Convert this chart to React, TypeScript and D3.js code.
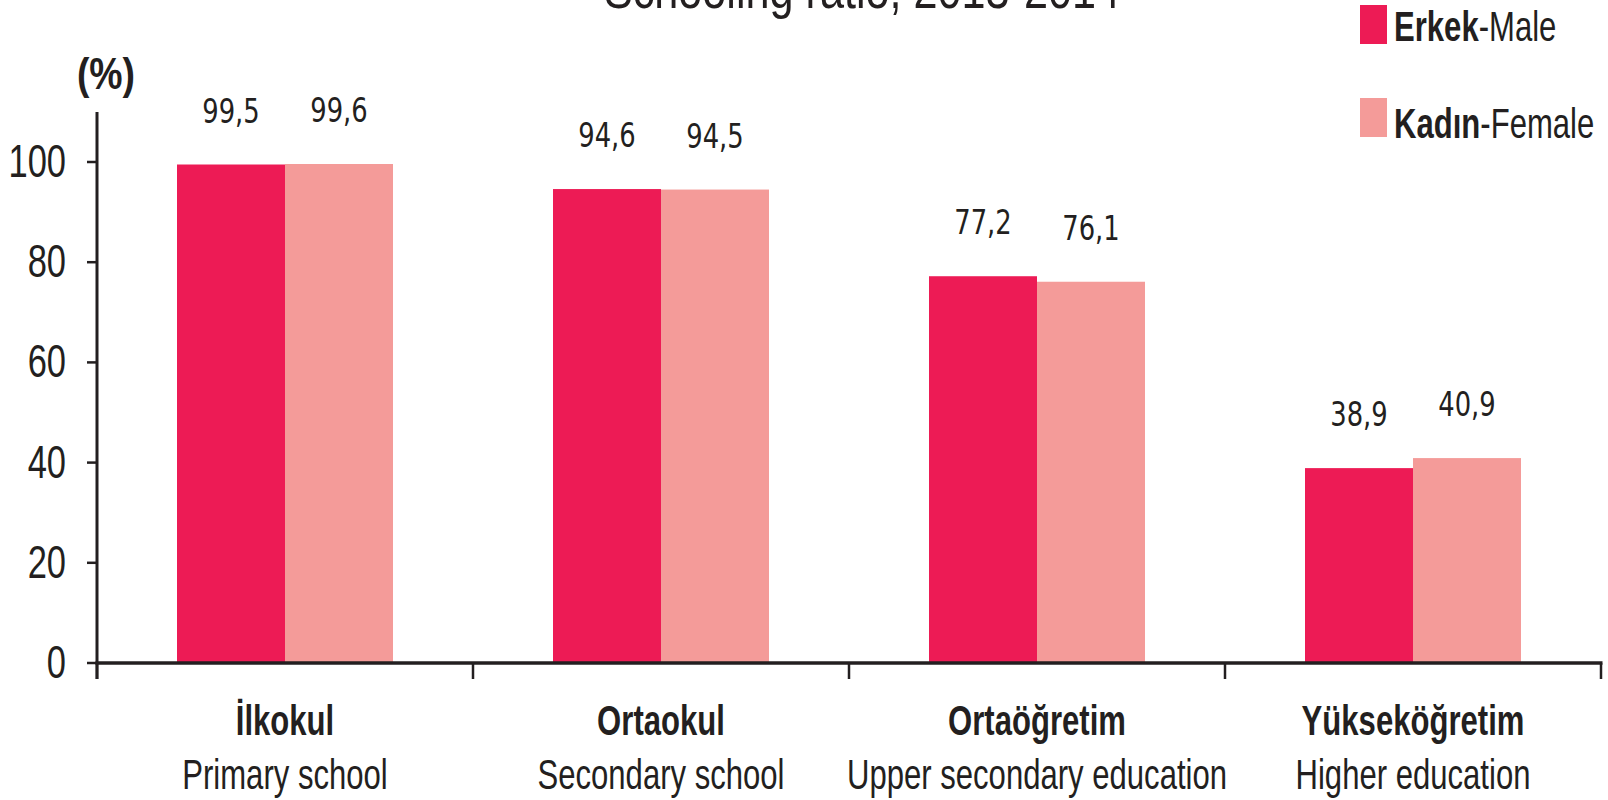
import React from "react";
import * as d3 from "d3";

const categoriesTR = ["İlkokul", "Ortaokul", "Ortaöğretim", "Yükseköğretim"];
const categoriesEN = ["Primary school", "Secondary school", "Upper secondary education", "Higher education"];
const male = [99.5, 94.6, 77.2, 38.9];
const female = [99.6, 94.5, 76.1, 40.9];
const maleLabels = ["99,5", "94,6", "77,2", "38,9"];
const femaleLabels = ["99,6", "94,5", "76,1", "40,9"];
const yTicks = [0, 20, 40, 60, 80, 100];
const seriesKeys = ["male", "female"];
const legendBold = ["Erkek", "Kadın"];
const legendRest = ["-Male", "-Female"];
const titleText = "Schooling ratio, 2013-2014";

const W = 1608;
const H = 800;
const MALE = "#ED1B55";
const FEMALE = "#F49B99";
const INK = "#231F20";
const SANS = "'Liberation Sans', Arial, sans-serif";
const DEJA = "'DejaVu Sans', sans-serif";

function NText(props: any) {
  const { x, y, sx = 0.76, family = SANS, children, ...rest } = props;
  return (
    <text transform={`translate(${x},${y}) scale(${sx},1)`} fontFamily={family} fill={INK} {...rest}>
      {children}
    </text>
  );
}

export default function App() {
  const x0 = d3.scaleBand<string>().domain(categoriesTR).range([97, 1601]).padding(0);
  const bw = x0.bandwidth();
  const groupW = 216;
  const x1 = d3
    .scaleBand<string>()
    .domain(seriesKeys)
    .range([(bw - groupW) / 2, (bw + groupW) / 2])
    .padding(0);
  const y = d3.scaleLinear().domain([0, 100]).range([663, 162]);
  const series = [
    { key: "male", values: male, labels: maleLabels, color: MALE },
    { key: "female", values: female, labels: femaleLabels, color: FEMALE },
  ];
  const colors = [MALE, FEMALE];

  return (
    <svg
      width={W}
      height={H}
      style={{ position: "absolute", left: 0, top: 0, background: "#fff" }}
      xmlns="http://www.w3.org/2000/svg"
    >
      <rect x={0} y={0} width={W} height={H} fill="#fff" />
      {/* title (mostly cut off at top) */}
      <NText x={862} y={8} sx={0.8} fontSize={54} textAnchor="middle">
        {titleText}
      </NText>

      {/* legend */}
      {legendBold.map((b, i) => (
        <g key={b}>
          <rect x={1360} y={5 + i * 93} width={27} height={39} fill={colors[i]} />
          <NText x={1394} y={41 + i * 97} sx={0.74} fontSize={42}>
            <tspan fontWeight="bold">{b}</tspan>
            <tspan>{legendRest[i]}</tspan>
          </NText>
        </g>
      ))}

      {/* (%) */}
      <NText x={106} y={89} sx={0.85} fontSize={44} fontWeight="bold" textAnchor="middle">
        (%)
      </NText>

      {/* bars */}
      {categoriesTR.map((c, ci) => (
        <g key={c} transform={`translate(${x0(c)},0)`}>
          {series.map((s) => (
            <rect
              key={s.key}
              x={x1(s.key)}
              y={y(s.values[ci])}
              width={x1.bandwidth()}
              height={y(0) - y(s.values[ci])}
              fill={s.color}
            />
          ))}
          {series.map((s) => (
            <NText
              key={s.key + "l"}
              x={(x1(s.key) as number) + x1.bandwidth() / 2}
              y={y(s.values[ci]) - 42}
              family={DEJA}
              sx={0.76}
              fontSize={34}
              textAnchor="middle"
            >
              {s.labels[ci]}
            </NText>
          ))}
        </g>
      ))}

      {/* y axis */}
      <line x1={97} x2={97} y1={112} y2={679} stroke={INK} strokeWidth={3} />
      {yTicks.map((t) => (
        <g key={t}>
          <line x1={87} x2={97} y1={y(t)} y2={y(t)} stroke={INK} strokeWidth={2.5} />
          <NText x={66} y={y(t) + 15} sx={0.75} fontSize={46} textAnchor="end">
            {t}
          </NText>
        </g>
      ))}

      {/* x axis */}
      <line x1={95.5} x2={1602.5} y1={y(0)} y2={y(0)} stroke={INK} strokeWidth={3.5} />
      {[...categoriesTR.map((c) => x0(c) as number), 1601].map((xv, i) => (
        <line key={i} x1={xv} x2={xv} y1={y(0)} y2={679} stroke={INK} strokeWidth={2.5} />
      ))}

      {/* category labels */}
      {categoriesTR.map((c, i) => {
        const cx = (x0(c) as number) + bw / 2;
        return (
          <g key={c + "lab"}>
            <NText x={cx} y={735} sx={0.74} fontSize={42} fontWeight="bold" textAnchor="middle">
              {c}
            </NText>
            <NText x={cx} y={789} sx={0.74} fontSize={42} textAnchor="middle">
              {categoriesEN[i]}
            </NText>
          </g>
        );
      })}
    </svg>
  );
}
